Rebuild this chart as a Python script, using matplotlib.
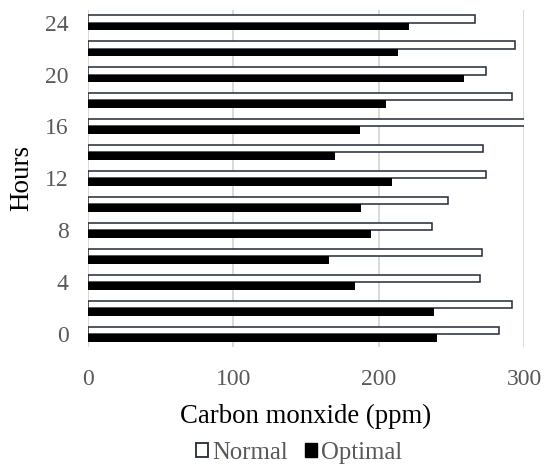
import matplotlib
matplotlib.use("Agg")
import matplotlib.pyplot as plt
from matplotlib.patches import Patch
import numpy as np

hours = [0, 2, 4, 6, 8, 10, 12, 14, 16, 18, 20, 22, 24]
normal = [283, 292, 270, 271, 237, 248, 274, 272, 310, 292, 274, 294, 266]
optimal = [240, 238, 184, 166, 195, 188, 209, 170, 187, 205, 259, 213, 221]
tick_labels = ["0", "4", "8", "12", "16", "20", "24"]
x_ticks = [0, 100, 200, 300]

plt.rcParams['font.family'] = ['Liberation Serif', 'DejaVu Serif']

fig = plt.figure(figsize=(5.44, 4.68), dpi=100)
ax = fig.add_axes([0.1618, 0.2581, 0.8015, 0.7214])

y = np.arange(len(hours))
h = 0.295
edge = '#222a35'
ax.barh(y + h / 2, normal, height=h, color='white', edgecolor=edge, linewidth=1.1, zorder=3)
ax.barh(y - h / 2, optimal, height=h, color='black', edgecolor='black', linewidth=0, zorder=3)

ax.set_xlim(0, 300)
ax.set_ylim(-0.5, len(hours) - 0.5)
ax.set_xticks(x_ticks)
ax.set_xticklabels([str(v) for v in x_ticks])
ax.set_yticks(y[::2])
ax.set_yticklabels(tick_labels)
ax.tick_params(axis='both', length=0, labelsize=17, labelcolor='#595959')
ax.tick_params(axis='y', pad=14)
ax.tick_params(axis='x', pad=16)

for s in ['top', 'right', 'bottom', 'left']:
    ax.spines[s].set_visible(False)
for gx in x_ticks:
    ax.axvline(gx, color='#d9d9d9', linewidth=1.4, zorder=1)

ax.set_xlabel('Carbon monxide (ppm)', fontsize=19.3, color='black', labelpad=10)
ax.set_ylabel('Hours', fontsize=19.5, color='black', labelpad=8)

handles = [Patch(facecolor='white', edgecolor=edge, linewidth=1.3, label='Normal'),
           Patch(facecolor='black', edgecolor='black', label='Optimal')]
leg = fig.legend(handles=handles, loc='center', bbox_to_anchor=(299 / 544, 1 - 453 / 468),
                 ncol=2, frameon=False, fontsize=17.8, handlelength=0.5, handleheight=0.5,
                 handletextpad=0.15, columnspacing=0.7, borderpad=0.1)
for t in leg.get_texts():
    t.set_color('#595959')

fig.savefig('out.png', dpi=100)
